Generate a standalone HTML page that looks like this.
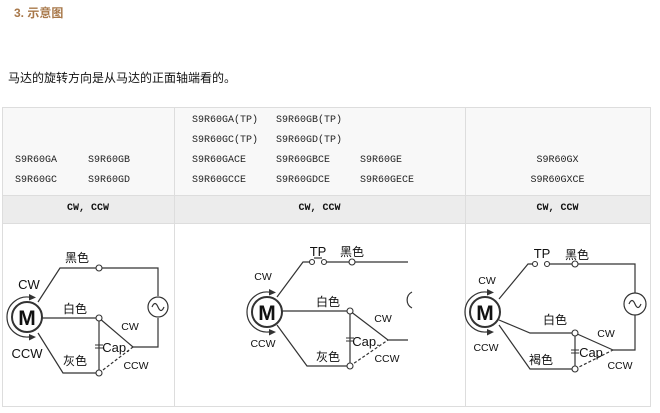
<!DOCTYPE html>
<html><head><meta charset="utf-8"><style>
body{margin:0;width:660px;height:413px;background:#fff;position:relative;overflow:hidden;font-family:"Liberation Sans","Noto Sans CJK SC",sans-serif}
.a{position:absolute;white-space:nowrap}
.m{font-family:"Liberation Mono","Noto Sans CJK SC",monospace;font-size:10px;color:#222}
.c{font-family:"Liberation Mono",monospace;font-size:10px;font-weight:bold;color:#111;text-align:center}
</style></head><body>
<div class="a" style="left:14px;top:4px;font-size:12px;font-weight:bold;color:#a8784a">3. 示意图</div>
<div class="a" style="left:8px;top:69px;font-size:12px;color:#111">马达的旋转方向是从马达的正面轴端看的。</div>
<svg class="a" style="left:0;top:0" width="660" height="413">
<rect x="2.5" y="107.5" width="648" height="299" fill="#fff" stroke="#ddd"/>
<rect x="3" y="108" width="647" height="87" fill="#f8f8f8"/>
<rect x="3" y="196" width="647" height="27" fill="#ececec"/>
<g stroke="#ddd"><line x1="2" y1="195.5" x2="651" y2="195.5"/><line x1="2" y1="223.5" x2="651" y2="223.5"/>
<line x1="174.5" y1="107" x2="174.5" y2="407"/><line x1="465.5" y1="107" x2="465.5" y2="407"/></g>
<g fill="none" stroke="#333" stroke-width="1.2">
<!-- left -->
<circle cx="27" cy="317" r="15" stroke-width="2"/>
<path d="M7 317 A20 20 0 0 1 31 297.4"/><path d="M7 317 A20 20 0 0 0 31 336.6"/>
<polyline points="38,302 60,268 158,268 158,296"/><circle cx="158" cy="307" r="10"/>
<path d="M152 307 q3 -7 6 0 q3 7 6 0"/>
<polyline points="158,318 158,347 133,347"/>
<line x1="42" y1="318" x2="99" y2="318"/>
<polyline points="38,333 63,373 99,373"/>
<line x1="99" y1="318" x2="99" y2="373"/>
<line x1="99" y1="318" x2="133" y2="347"/>
<line x1="99" y1="373" x2="133" y2="347" stroke-dasharray="3,2"/>
<!-- middle -->
<circle cx="267" cy="312" r="15" stroke-width="2"/>
<path d="M247 312 A20 20 0 0 1 271 292.4"/><path d="M247 312 A20 20 0 0 0 271 331.6"/>
<polyline points="277,297 303,262 310,262"/><line x1="326" y1="262" x2="408" y2="262"/>
<path d="M314 258 L322 258"/>
<line x1="282" y1="311" x2="350" y2="311"/>
<polyline points="277,325 307,366 350,366"/>
<line x1="350" y1="311" x2="350" y2="366"/>
<polyline points="350,311 388,340 408,340"/>
<line x1="350" y1="366" x2="388" y2="340" stroke-dasharray="3,2"/>
<path d="M412 292 A9 9 0 0 0 412 308"/>
<!-- right -->
<circle cx="485" cy="312" r="15" stroke-width="2"/>
<path d="M465 312 A20 20 0 0 1 489 292.4"/><path d="M465 312 A20 20 0 0 0 489 331.6"/>
<polyline points="499,299 528,264 533,264"/><polyline points="549,264 635,264 635,293"/>
<circle cx="635" cy="304" r="11"/><path d="M629 304 q3 -7 6 0 q3 7 6 0"/>
<polyline points="635,315 635,350 613,350"/>
<polyline points="499,320 530,333 575,333"/>
<polyline points="499,325 530,369 575,369"/>
<line x1="575" y1="333" x2="575" y2="369"/>
<line x1="575" y1="333" x2="613" y2="350"/>
<line x1="575" y1="369" x2="613" y2="350" stroke-dasharray="3,2"/>
</g>
<g fill="#fff" stroke="#333" stroke-width="1.1">
<circle cx="99" cy="268" r="3"/><circle cx="99" cy="318" r="3"/><circle cx="99" cy="373" r="3"/>
<circle cx="312" cy="262" r="2.5"/><circle cx="324" cy="262" r="2.5"/><circle cx="352" cy="262" r="3"/><circle cx="350" cy="311" r="3"/><circle cx="350" cy="366" r="3"/>
<circle cx="535" cy="264" r="2.5"/><circle cx="547" cy="264" r="2.5"/><circle cx="575" cy="264" r="3"/><circle cx="575" cy="333" r="3"/><circle cx="575" cy="369" r="3"/>
</g>
<g fill="#333"><path d="M29 294 l7 3.5 -7 3z"/><path d="M29 334 l7 3 -7 3.5z"/>
<path d="M269 289 l7 3.5 -7 3z"/><path d="M269 329 l7 3 -7 3.5z"/>
<path d="M487 289 l7 3.5 -7 3z"/><path d="M487 329 l7 3 -7 3.5z"/></g>
<g stroke="#333"><line x1="95" y1="345" x2="103" y2="345"/><line x1="95" y1="348" x2="103" y2="348"/>
<line x1="346" y1="338" x2="354" y2="338"/><line x1="346" y1="341" x2="354" y2="341"/>
<line x1="571" y1="350" x2="579" y2="350"/><line x1="571" y1="353" x2="579" y2="353"/></g>
<g font-family="Liberation Sans,Noto Sans CJK SC,sans-serif" fill="#111" text-anchor="middle">
<g font-weight="bold" font-size="21"><text x="27" y="325">M</text><text x="267" y="320">M</text><text x="485" y="320">M</text></g>
<g font-size="13"><text x="29" y="289">CW</text><text x="27" y="358">CCW</text></g>
<g font-size="10.5"><text x="263" y="280">CW</text><text x="263" y="347">CCW</text><text x="487" y="284">CW</text><text x="486" y="351">CCW</text>
<text x="130" y="330">CW</text><text x="136" y="369">CCW</text><text x="383" y="322">CW</text><text x="387" y="362">CCW</text><text x="606" y="337">CW</text><text x="620" y="369">CCW</text></g>
<g font-size="13"><text x="116" y="352">Cap.</text><text x="366" y="346">Cap.</text><text x="591" y="357">Cap</text>
<text x="318" y="256">TP</text><text x="542" y="258">TP</text></g>
<g font-size="12"><text x="77" y="262">黑色</text><text x="75" y="313">白色</text><text x="75" y="365">灰色</text>
<text x="352" y="256">黑色</text><text x="328" y="306">白色</text><text x="328" y="361">灰色</text>
<text x="577" y="259">黑色</text><text x="555" y="324">白色</text><text x="541" y="364">褐色</text></g>
</g>
</svg>
<div class="a m" style="left:15px;top:155px">S9R60GA</div><div class="a m" style="left:88px;top:155px">S9R60GB</div>
<div class="a m" style="left:15px;top:175px">S9R60GC</div><div class="a m" style="left:88px;top:175px">S9R60GD</div>
<div class="a m" style="left:192px;top:115px">S9R60GA(TP)</div><div class="a m" style="left:276px;top:115px">S9R60GB(TP)</div>
<div class="a m" style="left:192px;top:135px">S9R60GC(TP)</div><div class="a m" style="left:276px;top:135px">S9R60GD(TP)</div>
<div class="a m" style="left:192px;top:155px">S9R60GACE</div><div class="a m" style="left:276px;top:155px">S9R60GBCE</div><div class="a m" style="left:360px;top:155px">S9R60GE</div>
<div class="a m" style="left:192px;top:175px">S9R60GCCE</div><div class="a m" style="left:276px;top:175px">S9R60GDCE</div><div class="a m" style="left:360px;top:175px">S9R60GECE</div>
<div class="a m" style="left:465px;width:185px;text-align:center;top:155px">S9R60GX</div>
<div class="a m" style="left:465px;width:185px;text-align:center;top:175px">S9R60GXCE</div>
<div class="a c" style="left:2px;width:172px;top:203px">CW, CCW</div>
<div class="a c" style="left:174px;width:291px;top:203px">CW, CCW</div>
<div class="a c" style="left:465px;width:185px;top:203px">CW, CCW</div>
</body></html>
